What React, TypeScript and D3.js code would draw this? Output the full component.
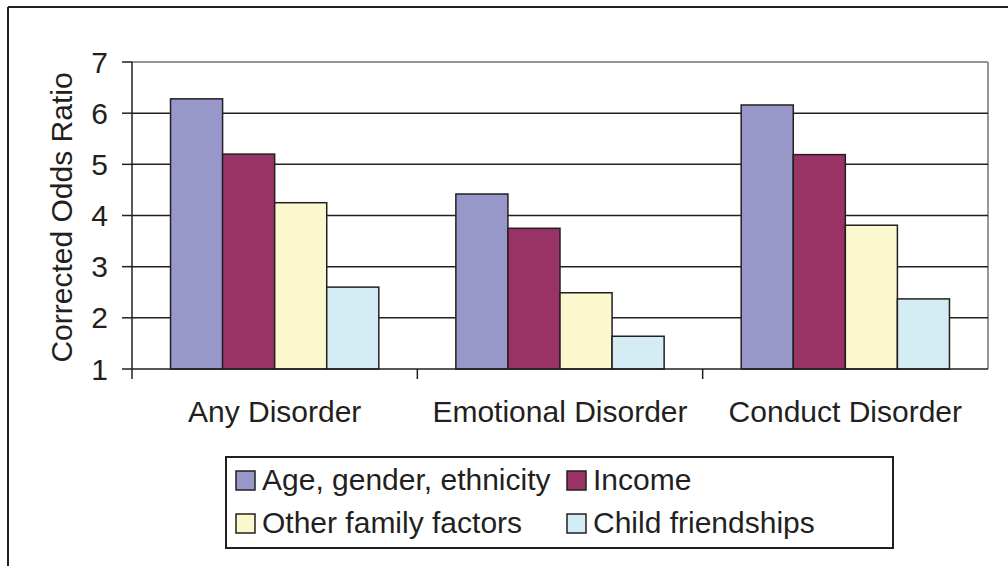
import { scaleBand, scaleLinear } from "d3";
import React from "react";

const categories = ["Any Disorder", "Emotional Disorder", "Conduct Disorder"];
const seriesNames = ["Age, gender, ethnicity", "Income", "Other family factors", "Child friendships"];
const seriesColors = ["#9797CA", "#993366", "#FBF8CE", "#D4ECF3"];
const ageGenderEthnicity = [6.28, 4.42, 6.16];
const income = [5.2, 3.75, 5.19];
const otherFamily = [4.25, 2.49, 3.81];
const childFriendships = [2.6, 1.64, 2.37];
const yTicks = [1, 2, 3, 4, 5, 6, 7];

const seriesValues = [ageGenderEthnicity, income, otherFamily, childFriendships];

const W = 1008;
const H = 566;
const plot = { left: 132, right: 988, top: 62, bottom: 369 };
const font = "Arial, 'Liberation Sans', Helvetica, sans-serif";
const ink = "#231f20";
const fs = 30;

export default function App() {
  const x = scaleBand().domain(categories).range([plot.left, plot.right]);
  const inner = scaleBand()
    .domain(seriesNames)
    .range([0, x.bandwidth()])
    .paddingInner(0)
    .paddingOuter(0.74);
  const y = scaleLinear().domain([1, 7]).range([plot.bottom, plot.top]);

  const legend = { x: 226, y: 457, w: 667, h: 91 };
  const rows = [
    [0, 1],
    [2, 3],
  ];
  const colX = [236, 567];
  const rowY = [490, 533];

  return (
    <svg
      width={W}
      height={H}
      style={{ position: "absolute", left: 0, top: 0, background: "#fff" }}
      fontFamily={font}
    >
      <rect x={0} y={0} width={W} height={H} fill="#fff" />
      {/* outer frame */}
      <line x1={8} y1={7} x2={W} y2={7} stroke={ink} strokeWidth={2} />
      <line x1={8} y1={7} x2={8} y2={H} stroke={ink} strokeWidth={2} />

      {/* plot area border */}
      <line x1={plot.left} y1={plot.top} x2={plot.right} y2={plot.top} stroke="#959595" strokeWidth={2} />
      <line x1={plot.right} y1={plot.top} x2={plot.right} y2={plot.bottom} stroke="#959595" strokeWidth={2} />

      {/* gridlines */}
      {yTicks.slice(1, -1).map((t) => (
        <line key={t} x1={plot.left} x2={plot.right} y1={y(t)} y2={y(t)} stroke={ink} strokeWidth={1.5} />
      ))}

      {/* bars */}
      {categories.map((c, ci) =>
        seriesNames.map((s, si) => {
          const v = seriesValues[si][ci];
          return (
            <rect
              key={c + s}
              x={(x(c) as number) + (inner(s) as number)}
              y={y(v)}
              width={inner.bandwidth()}
              height={y(1) - y(v)}
              fill={seriesColors[si]}
              stroke={ink}
              strokeWidth={1.5}
            />
          );
        })
      )}

      {/* y axis */}
      <line x1={plot.left} x2={plot.left} y1={plot.top} y2={plot.bottom + 10} stroke={ink} strokeWidth={1.5} />
      {yTicks.map((t) => (
        <g key={t}>
          <line x1={plot.left - 10} x2={plot.left} y1={y(t)} y2={y(t)} stroke={ink} strokeWidth={1.5} />
          <text x={108} y={y(t)} dy="0.35em" textAnchor="end" fontSize={fs} fill={ink}>
            {t}
          </text>
        </g>
      ))}
      <text
        transform={`translate(72,${(plot.top + plot.bottom) / 2 + 2}) rotate(-90)`}
        textAnchor="middle"
        fontSize={fs}
        fill={ink}
      >
        Corrected Odds Ratio
      </text>

      {/* x axis */}
      <line x1={plot.left} x2={plot.right} y1={plot.bottom} y2={plot.bottom} stroke={ink} strokeWidth={1.5} />
      {categories.slice(0, -1).map((c) => (
        <line
          key={"t" + c}
          x1={(x(c) as number) + x.bandwidth()}
          x2={(x(c) as number) + x.bandwidth()}
          y1={plot.bottom}
          y2={plot.bottom + 10}
          stroke={ink}
          strokeWidth={1.5}
        />
      ))}
      {categories.map((c) => (
        <text
          key={"l" + c}
          x={(x(c) as number) + x.bandwidth() / 2}
          y={422}
          textAnchor="middle"
          fontSize={fs}
          fill={ink}
        >
          {c}
        </text>
      ))}

      {/* legend */}
      <rect x={legend.x} y={legend.y} width={legend.w} height={legend.h} fill="#fff" stroke={ink} strokeWidth={2} />
      {rows.map((r, ri) =>
        r.map((si, k) => (
          <g key={seriesNames[si]}>
            <rect
              x={colX[k]}
              y={rowY[ri] - 19}
              width={19}
              height={19}
              fill={seriesColors[si]}
              stroke={ink}
              strokeWidth={1.5}
            />
            <text x={colX[k] + 26} y={rowY[ri]} fontSize={fs} fill={ink}>
              {seriesNames[si]}
            </text>
          </g>
        ))
      )}
    </svg>
  );
}
